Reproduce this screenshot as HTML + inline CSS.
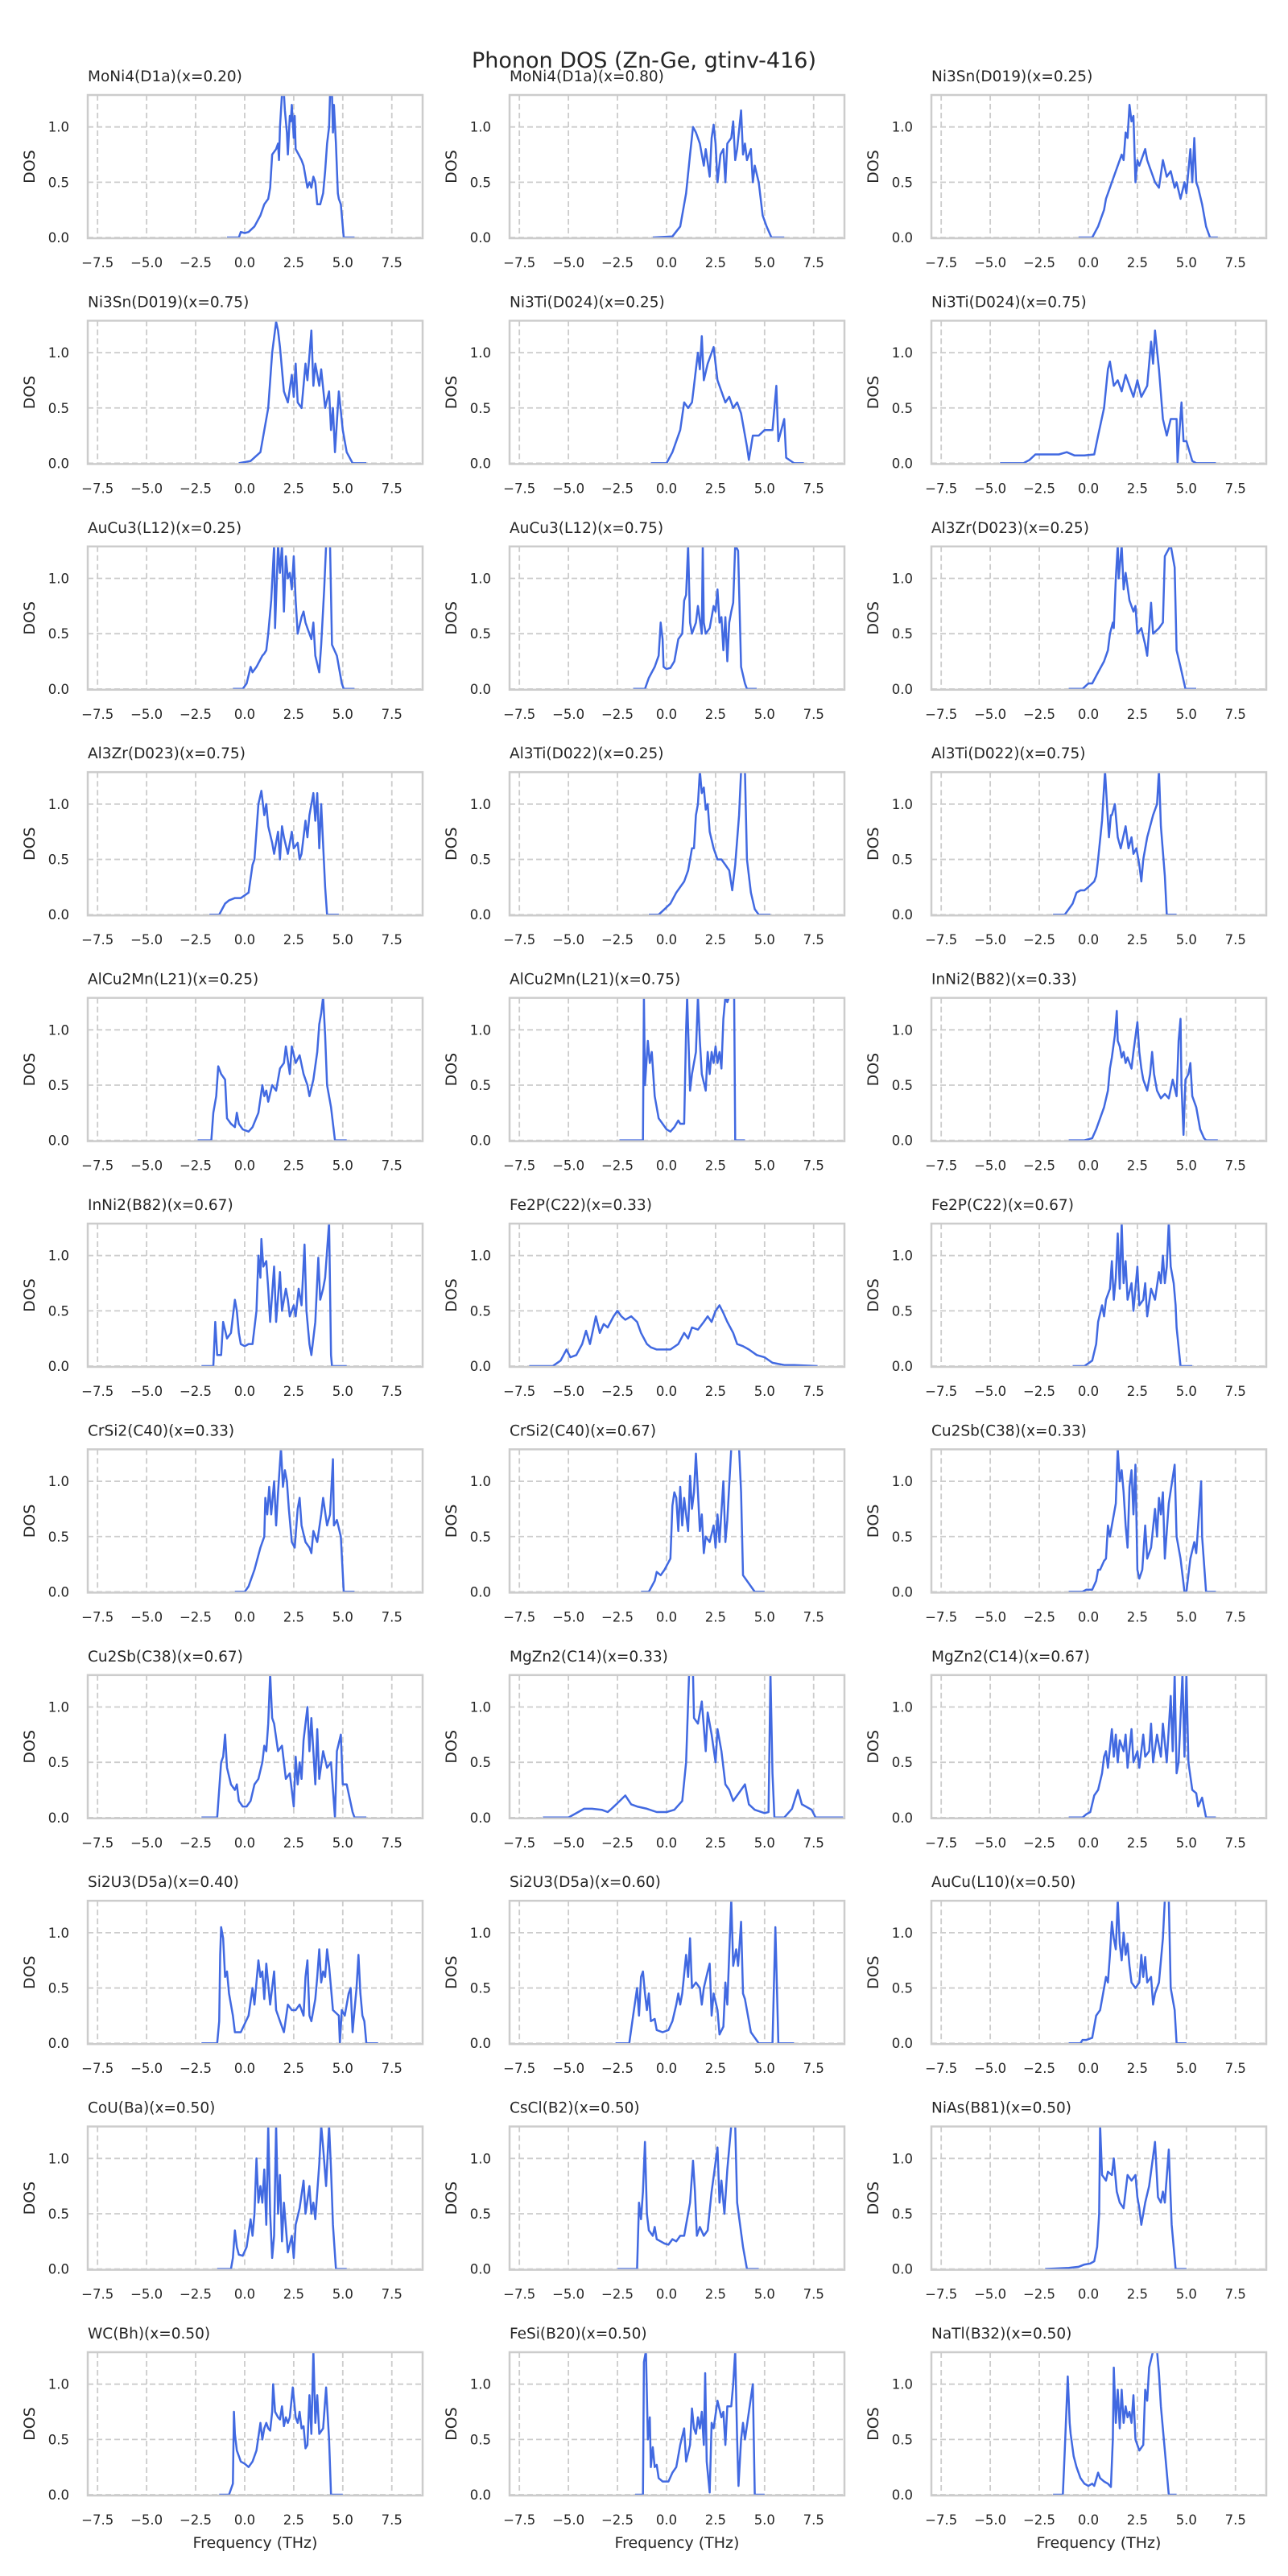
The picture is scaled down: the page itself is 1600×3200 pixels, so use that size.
<!DOCTYPE html>
<html><head><meta charset="utf-8">
<style>
html,body{margin:0;padding:0;background:#fff;}
svg{display:block;font-family:"DejaVu Sans","Liberation Sans",sans-serif;}
</style></head>
<body>
<svg id="fig" width="1600" height="3200" viewBox="0 0 1600 3200" xmlns="http://www.w3.org/2000/svg">
<rect x="0" y="0" width="1600" height="3200" fill="#fff"/>
<text x="800" y="84" text-anchor="middle" font-size="27" fill="#262626">Phonon DOS (Zn-Ge, gtinv-416)</text>
</svg>
<script>
const titles = ["MoNi4(D1a)(x=0.20)","MoNi4(D1a)(x=0.80)","Ni3Sn(D019)(x=0.25)","Ni3Sn(D019)(x=0.75)","Ni3Ti(D024)(x=0.25)","Ni3Ti(D024)(x=0.75)","AuCu3(L12)(x=0.25)","AuCu3(L12)(x=0.75)","Al3Zr(D023)(x=0.25)","Al3Zr(D023)(x=0.75)","Al3Ti(D022)(x=0.25)","Al3Ti(D022)(x=0.75)","AlCu2Mn(L21)(x=0.25)","AlCu2Mn(L21)(x=0.75)","InNi2(B82)(x=0.33)","InNi2(B82)(x=0.67)","Fe2P(C22)(x=0.33)","Fe2P(C22)(x=0.67)","CrSi2(C40)(x=0.33)","CrSi2(C40)(x=0.67)","Cu2Sb(C38)(x=0.33)","Cu2Sb(C38)(x=0.67)","MgZn2(C14)(x=0.33)","MgZn2(C14)(x=0.67)","Si2U3(D5a)(x=0.40)","Si2U3(D5a)(x=0.60)","AuCu(L10)(x=0.50)","CoU(Ba)(x=0.50)","CsCl(B2)(x=0.50)","NiAs(B81)(x=0.50)","WC(Bh)(x=0.50)","FeSi(B20)(x=0.50)","NaTl(B32)(x=0.50)"];
const xTicks = [-7.5,-5.0,-2.5,0.0,2.5,5.0,7.5];
const xTickLabels = ["\u22127.5","\u22125.0","\u22122.5","0.0","2.5","5.0","7.5"];
const yTicks = [0.0,0.5,1.0];
const yTickLabels = ["0.0","0.5","1.0"];
const xDomain = [-8.0, 9.07];
const yDomain = [-0.007, 1.289];

const dos0 = [[-0.9,0],[-0.3,0],[-0.2,0.05],[0,0.04],[0.2,0.05],[0.5,0.1],[0.8,0.2],[1.0,0.3],[1.2,0.35],[1.3,0.45],[1.4,0.75],[1.6,0.8],[1.7,0.85],[1.75,0.7],[1.8,1.0],[1.9,1.3],[2.0,1.3],[2.05,1.15],[2.15,0.95],[2.2,0.75],[2.3,1.1],[2.35,1.05],[2.4,1.2],[2.5,0.9],[2.55,1.1],[2.6,0.8],[2.75,0.75],[2.9,0.7],[3.0,0.65],[3.1,0.55],[3.2,0.45],[3.3,0.5],[3.4,0.45],[3.5,0.55],[3.6,0.5],[3.7,0.3],[3.85,0.3],[4.0,0.4],[4.1,0.6],[4.2,0.85],[4.3,1.0],[4.35,1.3],[4.45,1.3],[4.5,0.95],[4.55,1.2],[4.65,0.85],[4.75,0.4],[4.8,0.35],[4.9,0.3],[5.05,0],[5.6,0]];
const dos1 = [[-0.7,0],[0.3,0.01],[0.7,0.1],[1.0,0.4],[1.2,0.75],[1.35,1.0],[1.5,0.95],[1.6,0.9],[1.7,0.85],[1.8,0.75],[1.9,0.65],[2.0,0.8],[2.2,0.55],[2.3,0.9],[2.4,1.02],[2.5,0.85],[2.6,0.5],[2.75,0.75],[2.9,0.8],[3.0,0.5],[3.1,0.85],[3.3,0.9],[3.4,1.05],[3.5,0.7],[3.6,0.8],[3.8,1.15],[3.9,0.75],[4.0,0.85],[4.1,0.7],[4.3,0.8],[4.4,0.5],[4.5,0.65],[4.7,0.5],[4.9,0.2],[5.1,0.1],[5.35,0],[6.0,0]];
const dos2 = [[-0.5,0],[0.2,0],[0.5,0.1],[0.8,0.25],[0.9,0.35],[1.1,0.45],[1.3,0.55],[1.5,0.65],[1.7,0.75],[1.8,0.7],[1.9,0.95],[2.0,0.9],[2.1,1.2],[2.2,1.05],[2.3,1.1],[2.4,0.5],[2.5,0.7],[2.6,0.65],[2.9,0.8],[3.0,0.7],[3.1,0.65],[3.3,0.55],[3.4,0.5],[3.6,0.45],[3.8,0.7],[4.0,0.55],[4.2,0.6],[4.4,0.45],[4.5,0.5],[4.7,0.35],[4.9,0.5],[5.0,0.4],[5.2,0.8],[5.3,0.5],[5.4,0.9],[5.5,0.5],[5.6,0.45],[5.8,0.3],[6.0,0.1],[6.2,0],[6.6,0]];
const dos3 = [[-0.3,0],[0.3,0.02],[0.8,0.1],[1.2,0.5],[1.4,1.0],[1.6,1.28],[1.7,1.2],[1.8,1.05],[2.0,0.65],[2.2,0.55],[2.4,0.8],[2.5,0.6],[2.6,0.9],[2.7,0.55],[2.9,0.5],[3.1,0.9],[3.2,0.75],[3.4,1.2],[3.5,0.7],[3.6,0.9],[3.8,0.7],[3.9,0.85],[4.1,0.5],[4.3,0.65],[4.4,0.3],[4.5,0.5],[4.6,0.1],[4.8,0.65],[5.0,0.3],[5.2,0.1],[5.5,0],[6.2,0]];
const dos4 = [[-0.8,0],[0,0],[0.3,0.1],[0.7,0.3],[0.9,0.55],[1.1,0.5],[1.3,0.55],[1.4,0.7],[1.5,0.85],[1.6,1.0],[1.7,0.85],[1.8,1.15],[1.9,0.75],[2.1,0.9],[2.4,1.05],[2.6,0.75],[2.8,0.65],[3.0,0.55],[3.2,0.6],[3.4,0.5],[3.6,0.55],[3.8,0.45],[4.1,0.15],[4.2,0.03],[4.4,0.25],[4.7,0.25],[5.0,0.3],[5.4,0.3],[5.6,0.7],[5.7,0.2],[6.0,0.4],[6.1,0.05],[6.5,0],[7.0,0]];
const dos5 = [[-4.5,0],[-3.3,0],[-3.0,0.03],[-2.7,0.08],[-2.2,0.08],[-1.5,0.08],[-1.1,0.1],[-0.7,0.07],[-0.2,0.07],[0.3,0.08],[0.5,0.25],[0.8,0.5],[1.0,0.85],[1.1,0.92],[1.3,0.7],[1.5,0.75],[1.7,0.65],[1.9,0.8],[2.1,0.7],[2.3,0.6],[2.5,0.75],[2.7,0.6],[3.0,0.7],[3.2,1.1],[3.3,0.9],[3.4,1.2],[3.6,0.85],[3.8,0.4],[4.0,0.25],[4.2,0.4],[4.5,0.4],[4.55,0.0],[4.65,0.3],[4.75,0.55],[4.85,0.2],[5.0,0.2],[5.3,0.02],[5.5,0],[6.5,0]];
const dos6 = [[-0.6,0],[-0.1,0],[0.1,0.05],[0.3,0.2],[0.4,0.15],[0.6,0.2],[0.9,0.3],[1.0,0.32],[1.1,0.35],[1.2,0.5],[1.35,0.8],[1.5,1.3],[1.55,0.55],[1.7,1.3],[1.8,1.05],[1.9,1.3],[2.0,0.7],[2.1,1.2],[2.2,1.0],[2.3,1.05],[2.4,0.9],[2.5,1.2],[2.6,0.8],[2.7,0.5],[2.9,0.65],[3.0,0.7],[3.1,0.6],[3.2,0.55],[3.4,0.45],[3.5,0.6],[3.6,0.3],[3.8,0.15],[3.9,0.4],[4.05,0.9],[4.15,1.3],[4.35,1.3],[4.45,0.4],[4.7,0.3],[4.95,0.05],[5.05,0],[5.6,0]];
const dos7 = [[-1.7,0],[-1.1,0],[-0.9,0.1],[-0.6,0.2],[-0.4,0.3],[-0.3,0.6],[-0.2,0.45],[-0.15,0.2],[0,0.18],[0.2,0.19],[0.4,0.25],[0.6,0.45],[0.8,0.5],[0.9,0.8],[1.0,0.85],[1.1,1.3],[1.2,0.6],[1.3,0.5],[1.5,0.6],[1.6,0.75],[1.8,0.5],[1.85,1.3],[1.9,0.6],[2.0,0.5],[2.2,0.55],[2.4,0.75],[2.5,0.7],[2.6,0.9],[2.7,0.6],[2.8,0.65],[2.9,0.35],[3.0,0.65],[3.1,0.25],[3.2,0.6],[3.3,0.7],[3.4,0.78],[3.5,1.3],[3.65,1.25],[3.8,0.2],[4.0,0.05],[4.1,0],[4.6,0]];
const dos8 = [[-1.0,0],[-0.3,0],[0,0.05],[0.2,0.05],[0.5,0.15],[0.8,0.25],[1.0,0.35],[1.1,0.5],[1.25,0.6],[1.3,0.55],[1.4,1.0],[1.5,1.3],[1.55,1.0],[1.7,1.3],[1.8,0.9],[1.9,1.05],[2.1,0.8],[2.3,0.7],[2.4,0.75],[2.5,0.5],[2.7,0.55],[2.9,0.4],[3.0,0.3],[3.2,0.78],[3.3,0.5],[3.6,0.55],[3.8,0.6],[3.9,1.2],[4.2,1.3],[4.4,1.1],[4.5,0.35],[4.7,0.2],[4.95,0],[5.5,0]];
const dos9 = [[-1.8,0],[-1.3,0],[-1.0,0.1],[-0.8,0.13],[-0.5,0.15],[-0.2,0.15],[0.2,0.2],[0.4,0.45],[0.5,0.5],[0.7,1.0],[0.85,1.12],[1.0,0.9],[1.1,1.0],[1.2,0.8],[1.4,0.65],[1.5,0.55],[1.7,0.75],[1.8,0.5],[1.9,0.8],[2.0,0.7],[2.2,0.55],[2.4,0.75],[2.5,0.6],[2.7,0.65],[2.8,0.5],[2.9,0.55],[3.1,0.85],[3.2,0.7],[3.3,0.9],[3.5,1.1],[3.6,0.85],[3.7,1.1],[3.8,0.6],[3.9,1.0],[4.1,0.25],[4.2,0],[4.8,0]];
const dos10 = [[-0.9,0],[-0.4,0],[-0.1,0.05],[0.2,0.1],[0.5,0.2],[0.9,0.3],[1.1,0.4],[1.2,0.5],[1.3,0.6],[1.4,0.6],[1.5,0.9],[1.6,1.0],[1.7,1.3],[1.8,1.1],[1.9,1.15],[2.0,0.95],[2.1,1.0],[2.2,0.75],[2.4,0.6],[2.6,0.5],[2.8,0.5],[3.0,0.45],[3.2,0.4],[3.35,0.22],[3.5,0.45],[3.7,0.9],[3.8,1.3],[4.0,1.3],[4.1,0.5],[4.3,0.2],[4.5,0.05],[4.7,0],[5.3,0]];
const dos11 = [[-1.8,0],[-1.2,0],[-1.0,0.05],[-0.8,0.1],[-0.6,0.2],[-0.4,0.22],[-0.2,0.22],[0.0,0.25],[0.3,0.3],[0.4,0.35],[0.5,0.5],[0.7,0.85],[0.85,1.3],[0.95,1.0],[1.05,0.7],[1.15,0.9],[1.2,0.9],[1.35,1.0],[1.5,0.7],[1.65,0.6],[1.9,0.8],[2.05,0.6],[2.2,0.7],[2.3,0.55],[2.45,0.6],[2.6,0.45],[2.7,0.3],[2.8,0.5],[3.0,0.7],[3.3,0.9],[3.5,1.0],[3.6,1.3],[3.7,0.8],[3.9,0.35],[4.0,0],[4.5,0]];
const dos12 = [[-2.4,0],[-1.7,0],[-1.6,0.25],[-1.45,0.4],[-1.35,0.67],[-1.2,0.6],[-1.0,0.55],[-0.9,0.2],[-0.7,0.15],[-0.5,0.12],[-0.4,0.25],[-0.3,0.15],[-0.1,0.1],[0.2,0.08],[0.4,0.12],[0.7,0.25],[0.9,0.5],[1.0,0.4],[1.1,0.45],[1.2,0.35],[1.4,0.5],[1.6,0.45],[1.8,0.65],[2.0,0.7],[2.1,0.85],[2.3,0.6],[2.4,0.85],[2.6,0.7],[2.8,0.77],[3.0,0.6],[3.2,0.5],[3.3,0.4],[3.5,0.55],[3.7,0.8],[3.8,1.05],[3.9,1.15],[4.0,1.3],[4.1,0.95],[4.2,0.5],[4.4,0.3],[4.6,0],[5.2,0]];
const dos13 = [[-2.4,0],[-1.2,0],[-1.15,1.3],[-1.1,0.5],[-0.95,0.9],[-0.85,0.7],[-0.75,0.8],[-0.6,0.4],[-0.4,0.2],[-0.2,0.15],[0.0,0.1],[0.2,0.08],[0.4,0.12],[0.6,0.18],[0.7,0.15],[0.9,0.15],[1.0,1.0],[1.05,1.3],[1.2,0.45],[1.3,0.6],[1.5,0.8],[1.6,1.3],[1.7,0.9],[1.8,0.6],[2.0,0.45],[2.1,0.8],[2.2,0.6],[2.3,0.8],[2.4,0.7],[2.5,0.85],[2.6,0.7],[2.7,0.8],[2.8,0.65],[2.9,1.1],[3.0,1.3],[3.1,1.25],[3.2,1.3],[3.45,1.3],[3.5,0],[4.0,0]];
const dos14 = [[-1.0,0],[-0.2,0],[0.2,0.02],[0.4,0.1],[0.6,0.2],[0.8,0.3],[1.0,0.45],[1.1,0.65],[1.2,0.75],[1.35,0.95],[1.45,1.17],[1.5,0.9],[1.6,0.85],[1.7,0.75],[1.8,0.8],[1.9,0.7],[2.0,0.75],[2.1,0.7],[2.2,0.65],[2.3,0.8],[2.5,1.07],[2.6,0.8],[2.7,0.65],[2.8,0.55],[3.0,0.45],[3.15,0.6],[3.25,0.8],[3.35,0.6],[3.5,0.45],[3.7,0.38],[3.9,0.42],[4.1,0.38],[4.3,0.55],[4.5,0.4],[4.6,0.9],[4.7,1.1],[4.75,0.5],[4.85,0.05],[4.95,0.55],[5.1,0.6],[5.2,0.7],[5.3,0.4],[5.5,0.3],[5.7,0.1],[5.9,0.02],[6.0,0],[6.6,0]];
const dos15 = [[-2.2,0],[-1.6,0],[-1.5,0.4],[-1.4,0.1],[-1.2,0.1],[-1.1,0.4],[-0.9,0.25],[-0.7,0.3],[-0.6,0.45],[-0.5,0.6],[-0.4,0.5],[-0.3,0.3],[-0.2,0.2],[0,0.18],[0.2,0.2],[0.4,0.2],[0.6,0.5],[0.7,1.0],[0.8,0.8],[0.85,1.15],[0.95,0.9],[1.1,0.95],[1.2,0.7],[1.3,0.4],[1.5,0.9],[1.6,0.4],[1.8,0.85],[1.9,0.5],[2.1,0.7],[2.2,0.6],[2.3,0.45],[2.5,0.55],[2.6,0.45],[2.75,0.7],[2.9,0.55],[3.05,1.1],[3.15,0.5],[3.3,0.2],[3.4,0.1],[3.6,0.4],[3.75,0.98],[3.85,0.6],[4.0,0.7],[4.1,0.8],[4.3,1.3],[4.4,0.1],[4.45,0],[5.2,0]];
const dos16 = [[-7.0,0],[-5.8,0],[-5.4,0.05],[-5.1,0.15],[-4.9,0.08],[-4.6,0.1],[-4.3,0.2],[-4.1,0.32],[-3.9,0.2],[-3.6,0.45],[-3.4,0.3],[-3.2,0.38],[-3.0,0.35],[-2.7,0.45],[-2.5,0.5],[-2.3,0.45],[-2.1,0.42],[-1.8,0.45],[-1.5,0.4],[-1.3,0.3],[-1.0,0.2],[-0.8,0.17],[-0.5,0.15],[-0.2,0.15],[0.2,0.15],[0.6,0.2],[0.9,0.3],[1.1,0.25],[1.3,0.35],[1.6,0.33],[1.9,0.4],[2.1,0.45],[2.3,0.4],[2.5,0.5],[2.7,0.55],[2.9,0.48],[3.1,0.4],[3.4,0.3],[3.6,0.2],[3.9,0.18],[4.2,0.15],[4.6,0.1],[5.0,0.08],[5.4,0.03],[6.0,0.01],[6.5,0.01],[7.7,0]];
const dos17 = [[-0.8,0],[-0.2,0],[0.2,0.05],[0.4,0.2],[0.5,0.4],[0.7,0.55],[0.8,0.45],[0.9,0.6],[1.1,0.7],[1.2,0.95],[1.3,0.6],[1.4,0.8],[1.5,1.2],[1.6,0.7],[1.7,1.3],[1.8,0.75],[1.9,0.95],[2.0,0.6],[2.2,0.75],[2.3,0.5],[2.5,0.9],[2.6,0.55],[2.8,0.6],[2.9,0.75],[3.0,0.45],[3.2,0.7],[3.4,0.6],[3.6,0.85],[3.7,0.75],[3.8,1.0],[3.9,0.75],[4.0,0.9],[4.1,1.3],[4.2,0.9],[4.35,0.75],[4.45,0.55],[4.5,0.35],[4.7,0],[5.3,0]];
const dos18 = [[-0.5,0],[0,0],[0.2,0.05],[0.5,0.2],[0.8,0.4],[1.0,0.5],[1.05,0.85],[1.15,0.7],[1.25,0.95],[1.35,0.7],[1.5,1.0],[1.6,0.6],[1.7,0.9],[1.85,1.3],[1.95,0.95],[2.05,1.1],[2.15,1.0],[2.25,0.75],[2.4,0.45],[2.55,0.4],[2.7,0.75],[2.8,0.85],[2.9,0.6],[3.1,0.45],[3.3,0.4],[3.4,0.35],[3.5,0.55],[3.7,0.45],[3.9,0.7],[4.0,0.85],[4.2,0.6],[4.35,0.7],[4.5,1.2],[4.55,0.6],[4.7,0.65],[4.9,0.5],[5.05,0],[5.6,0]];
const dos19 = [[-1.3,0],[-0.9,0],[-0.6,0.1],[-0.5,0.18],[-0.3,0.15],[-0.1,0.2],[0.2,0.3],[0.3,0.78],[0.4,0.9],[0.5,0.85],[0.6,0.55],[0.7,0.95],[0.8,0.6],[0.9,0.85],[1.0,0.7],[1.1,0.55],[1.2,1.05],[1.3,0.75],[1.4,0.9],[1.5,1.25],[1.6,0.9],[1.7,0.55],[1.8,0.7],[1.9,0.35],[2.0,0.5],[2.2,0.45],[2.4,0.6],[2.5,0.4],[2.6,0.7],[2.7,0.45],[2.9,1.0],[3.0,0.45],[3.1,0.65],[3.3,1.3],[3.5,1.3],[3.7,1.3],[3.8,0.9],[3.9,0.15],[4.3,0.05],[4.5,0],[5.0,0]];
const dos20 = [[-1.0,0],[-0.3,0],[-0.1,0.02],[0.2,0.02],[0.4,0.1],[0.5,0.2],[0.6,0.2],[0.8,0.28],[0.9,0.3],[1.0,0.6],[1.1,0.5],[1.2,0.6],[1.4,0.8],[1.5,1.3],[1.6,1.0],[1.7,1.1],[1.8,0.9],[1.9,0.6],[2.0,0.4],[2.1,0.95],[2.2,1.1],[2.3,0.7],[2.4,1.15],[2.5,0.2],[2.6,0.12],[2.75,0.2],[2.9,0.6],[3.0,0.3],[3.2,0.4],[3.4,0.75],[3.5,0.5],[3.6,0.85],[3.7,0.7],[3.8,0.9],[3.9,0.3],[4.1,0.8],[4.4,1.15],[4.5,0.5],[4.7,0.3],[4.9,0],[5.0,0],[5.2,0.3],[5.4,0.45],[5.5,0.35],[5.6,0.6],[5.75,1.0],[5.8,0.5],[6.0,0],[6.5,0]];
const dos21 = [[-2.2,0],[-1.4,0],[-1.2,0.5],[-1.1,0.55],[-1.0,0.75],[-0.9,0.45],[-0.7,0.3],[-0.5,0.25],[-0.4,0.3],[-0.3,0.15],[-0.1,0.1],[0.1,0.1],[0.3,0.15],[0.5,0.3],[0.7,0.35],[0.9,0.5],[1.0,0.65],[1.1,0.6],[1.2,0.85],[1.3,1.3],[1.4,0.9],[1.5,0.85],[1.7,0.6],[1.9,0.65],[2.1,0.35],[2.3,0.4],[2.5,0.1],[2.6,0.55],[2.7,0.3],[2.8,0.5],[2.9,0.35],[3.0,0.7],[3.2,1.0],[3.3,0.6],[3.4,0.9],[3.6,0.3],[3.7,0.8],[3.8,0.35],[4.0,0.6],[4.2,0.45],[4.4,0.5],[4.6,0.0],[4.7,0.6],[4.9,0.75],[5.0,0.3],[5.2,0.3],[5.5,0.05],[5.6,0],[6.2,0]];
const dos22 = [[-6.3,0],[-5.0,0],[-4.5,0.05],[-4.2,0.08],[-3.8,0.08],[-3.3,0.07],[-3.0,0.05],[-2.8,0.08],[-2.5,0.13],[-2.1,0.2],[-1.8,0.12],[-1.5,0.1],[-1.0,0.08],[-0.5,0.05],[0.0,0.05],[0.4,0.07],[0.8,0.15],[1.0,0.5],[1.15,1.3],[1.35,1.3],[1.4,0.9],[1.6,0.85],[1.8,1.05],[2.0,0.6],[2.1,0.95],[2.3,0.75],[2.5,0.5],[2.6,0.8],[2.8,0.6],[3.0,0.3],[3.2,0.25],[3.4,0.15],[3.6,0.2],[3.8,0.25],[4.0,0.3],[4.2,0.12],[4.5,0.07],[5.0,0.04],[5.2,0.05],[5.3,1.3],[5.4,0.4],[5.5,0],[6.0,0],[6.4,0.08],[6.7,0.25],[6.9,0.12],[7.4,0.07],[7.6,0],[9.0,0]];
const dos23 = [[-1.0,0],[-0.3,0],[-0.1,0.03],[0.1,0.05],[0.3,0.2],[0.5,0.25],[0.7,0.4],[0.8,0.55],[0.9,0.6],[1.0,0.45],[1.2,0.8],[1.3,0.55],[1.4,0.75],[1.5,0.5],[1.6,0.7],[1.8,0.6],[1.9,0.75],[2.0,0.45],[2.2,0.8],[2.3,0.5],[2.5,0.6],[2.6,0.45],[2.8,0.75],[2.9,0.55],[3.1,0.6],[3.2,0.85],[3.3,0.5],[3.5,0.75],[3.7,0.55],[3.8,0.85],[4.0,0.5],[4.2,1.1],[4.3,0.6],[4.4,1.3],[4.5,0.4],[4.6,0.5],[4.8,1.3],[4.9,0.55],[5.0,1.3],[5.1,0.5],[5.3,0.25],[5.5,0.22],[5.6,0.1],[5.8,0.18],[6.0,0],[6.5,0]];
const dos24 = [[-2.2,0],[-1.4,0],[-1.3,0.2],[-1.25,0.8],[-1.2,1.05],[-1.1,0.95],[-1.0,0.6],[-0.9,0.65],[-0.8,0.45],[-0.7,0.35],[-0.6,0.25],[-0.5,0.1],[-0.2,0.1],[0.2,0.25],[0.4,0.5],[0.5,0.35],[0.7,0.75],[0.8,0.6],[0.9,0.65],[1.0,0.4],[1.1,0.72],[1.3,0.35],[1.5,0.65],[1.6,0.3],[1.8,0.2],[2.0,0.1],[2.2,0.35],[2.4,0.3],[2.6,0.3],[2.8,0.35],[3.0,0.25],[3.1,0.6],[3.2,0.75],[3.3,0.25],[3.4,0.2],[3.6,0.4],[3.7,0.6],[3.8,0.85],[3.9,0.55],[4.0,0.65],[4.1,0.6],[4.2,0.85],[4.3,0.7],[4.5,0.3],[4.8,0.25],[4.85,0.0],[4.95,0.3],[5.1,0.25],[5.3,0.45],[5.4,0.5],[5.5,0.1],[5.6,0.3],[5.7,0.5],[5.8,0.8],[5.9,0.45],[6.0,0.25],[6.1,0.2],[6.2,0],[6.8,0]];
const dos25 = [[-2.6,0],[-1.9,0],[-1.7,0.25],[-1.5,0.5],[-1.4,0.25],[-1.3,0.6],[-1.2,0.65],[-1.1,0.45],[-1.0,0.3],[-0.9,0.45],[-0.8,0.2],[-0.6,0.22],[-0.5,0.12],[-0.2,0.1],[0.1,0.12],[0.3,0.2],[0.5,0.35],[0.6,0.45],[0.7,0.35],[0.8,0.45],[1.0,0.8],[1.1,0.6],[1.2,0.95],[1.3,0.5],[1.5,0.55],[1.7,0.5],[1.8,0.35],[1.9,0.5],[2.1,0.65],[2.2,0.72],[2.3,0.25],[2.4,0.45],[2.6,0.3],[2.7,0.08],[2.9,0.15],[3.0,0.55],[3.1,0.35],[3.3,1.3],[3.4,0.7],[3.55,0.85],[3.65,0.7],[3.8,1.1],[3.9,0.45],[4.0,0.4],[4.3,0.1],[4.7,0],[5.4,0],[5.55,1.05],[5.7,0],[6.5,0]];
const dos26 = [[-1.0,0],[-0.4,0],[-0.3,0.03],[-0.1,0.03],[0.2,0.05],[0.4,0.25],[0.6,0.3],[0.8,0.5],[0.9,0.6],[1.0,0.55],[1.1,0.8],[1.2,1.1],[1.3,0.95],[1.4,0.85],[1.5,1.3],[1.6,0.9],[1.7,0.75],[1.8,1.0],[1.9,0.8],[2.0,0.9],[2.1,0.7],[2.2,0.55],[2.4,0.5],[2.6,0.55],[2.7,0.8],[2.8,0.6],[2.9,0.78],[3.0,0.55],[3.2,0.6],[3.3,0.35],[3.4,0.45],[3.6,0.55],[3.8,0.95],[3.9,1.3],[4.1,1.3],[4.2,0.5],[4.4,0.3],[4.5,0],[5.0,0]];
const dos27 = [[-1.4,0],[-0.7,0],[-0.6,0.1],[-0.5,0.35],[-0.4,0.2],[-0.3,0.13],[-0.1,0.12],[0.1,0.2],[0.3,0.45],[0.4,0.3],[0.5,0.5],[0.6,1.0],[0.7,0.6],[0.8,0.75],[0.9,0.6],[1.0,0.9],[1.1,0.4],[1.2,1.3],[1.3,0.5],[1.4,0.1],[1.5,0.3],[1.6,1.3],[1.7,0.5],[1.8,0.85],[1.9,0.25],[2.0,0.6],[2.2,0.15],[2.4,0.3],[2.5,0.1],[2.6,0.4],[2.8,0.55],[3.0,0.8],[3.1,0.5],[3.3,0.75],[3.4,0.5],[3.5,0.6],[3.6,0.45],[3.8,0.95],[3.9,1.3],[4.0,1.1],[4.15,0.75],[4.3,1.3],[4.4,0.9],[4.5,0.4],[4.65,0],[5.2,0]];
const dos28 = [[-2.5,0],[-1.5,0],[-1.4,0.6],[-1.3,0.45],[-1.2,0.7],[-1.1,1.15],[-1.0,0.5],[-0.9,0.35],[-0.7,0.3],[-0.6,0.38],[-0.5,0.27],[-0.3,0.25],[-0.1,0.23],[0.1,0.22],[0.3,0.27],[0.5,0.25],[0.7,0.3],[0.9,0.3],[1.2,0.6],[1.35,0.98],[1.45,0.7],[1.55,0.3],[1.7,0.38],[1.9,0.3],[2.1,0.35],[2.3,0.7],[2.45,0.9],[2.6,1.1],[2.7,0.6],[2.8,0.8],[2.95,0.5],[3.1,0.9],[3.3,1.3],[3.5,1.3],[3.6,0.6],[3.9,0.2],[4.1,0],[4.7,0]];
const dos29 = [[-2.2,0],[-1.0,0.01],[-0.5,0.02],[-0.2,0.04],[0.1,0.05],[0.3,0.07],[0.45,0.2],[0.55,0.5],[0.6,1.3],[0.7,0.85],[0.9,0.8],[1.0,0.88],[1.2,0.85],[1.3,1.0],[1.45,0.7],[1.6,0.6],[1.8,0.55],[2.0,0.85],[2.2,0.8],[2.4,0.85],[2.5,0.65],[2.6,0.55],[2.7,0.4],[2.9,0.6],[3.1,0.75],[3.4,1.15],[3.55,0.65],[3.7,0.6],[3.8,0.7],[3.9,0.6],[4.1,1.08],[4.25,0.4],[4.45,0],[5.0,0]];
const dos30 = [[-1.3,0],[-0.8,0],[-0.7,0.05],[-0.6,0.1],[-0.55,0.75],[-0.5,0.55],[-0.4,0.4],[-0.3,0.35],[-0.2,0.3],[0,0.28],[0.2,0.25],[0.4,0.3],[0.6,0.4],[0.8,0.65],[0.9,0.5],[1.0,0.6],[1.1,0.65],[1.2,0.6],[1.3,0.58],[1.4,0.75],[1.45,1.0],[1.55,0.75],[1.7,0.7],[1.8,0.68],[1.9,0.8],[2.0,0.62],[2.1,0.7],[2.2,0.65],[2.3,0.7],[2.45,0.97],[2.6,0.7],[2.7,0.65],[2.8,0.75],[2.9,0.6],[3.0,0.62],[3.1,0.42],[3.2,0.45],[3.3,0.9],[3.4,0.55],[3.5,1.3],[3.6,0.65],[3.7,0.9],[3.8,0.55],[4.0,0.6],[4.15,0.97],[4.3,0.5],[4.4,0],[5.0,0]];
const dos31 = [[-1.6,0],[-1.2,0],[-1.15,1.2],[-1.05,1.3],[-0.95,0.5],[-0.85,0.7],[-0.8,0.25],[-0.7,0.43],[-0.6,0.25],[-0.5,0.27],[-0.4,0.15],[-0.2,0.12],[0.1,0.12],[0.3,0.2],[0.5,0.25],[0.7,0.45],[0.9,0.6],[1.0,0.3],[1.2,0.45],[1.3,0.78],[1.4,0.6],[1.5,0.55],[1.6,0.7],[1.7,0.6],[1.8,0.75],[1.9,0.45],[1.97,1.1],[2.05,0.3],[2.2,0.02],[2.3,0.65],[2.4,0.6],[2.6,0.85],[2.8,0.7],[2.9,0.75],[3.0,0.45],[3.1,0.8],[3.3,0.8],[3.4,1.0],[3.5,1.3],[3.6,0.5],[3.67,0.08],[3.8,0.5],[3.9,0.65],[4.0,0.5],[4.2,0.75],[4.4,1.0],[4.5,0],[5.0,0]];
const dos32 = [[-1.8,0],[-1.3,0],[-1.2,0.4],[-1.05,1.07],[-0.95,0.65],[-0.9,0.55],[-0.75,0.35],[-0.6,0.25],[-0.4,0.15],[-0.2,0.1],[0,0.08],[0.2,0.1],[0.3,0.08],[0.5,0.2],[0.6,0.15],[0.8,0.12],[1.0,0.1],[1.15,0.07],[1.25,0.5],[1.3,1.15],[1.4,0.65],[1.5,0.95],[1.6,0.6],[1.7,0.95],[1.8,0.65],[1.9,0.8],[2.0,0.7],[2.1,0.75],[2.2,0.65],[2.3,0.9],[2.4,0.5],[2.6,0.4],[2.8,0.45],[2.9,0.95],[3.0,0.85],[3.1,1.15],[3.3,1.3],[3.5,1.3],[3.6,1.1],[3.7,0.8],[4.1,0],[4.5,0]];

const seriesList = [dos0,dos1,dos2,dos3,dos4,dos5,dos6,dos7,dos8,dos9,dos10,dos11,dos12,dos13,dos14,dos15,dos16,dos17,dos18,dos19,dos20,dos21,dos22,dos23,dos24,dos25,dos26,dos27,dos28,dos29,dos30,dos31,dos32];

const NS = "http://www.w3.org/2000/svg";
const fig = document.getElementById("fig");
const PW = 416, PH = 178;
function mk(tag, attrs, parent) {
  const el = document.createElementNS(NS, tag);
  for (const k in attrs) el.setAttribute(k, attrs[k]);
  (parent || fig).appendChild(el);
  return el;
}
seriesList.forEach(function (series, i) {
  const col = i % 3, row = Math.floor(i / 3);
  const left = 109 + col * 524;
  const top = 118 + row * 280.4;
  const xs = function (f) { return left + (f - xDomain[0]) / (xDomain[1] - xDomain[0]) * PW; };
  const ys = function (d) { return top + PH * (yDomain[1] - d) / (yDomain[1] - yDomain[0]); };
  const g = mk("g", {});
  
  
  xTicks.forEach(function (t, k) {
    const l = mk("line", {x1: xs(t), x2: xs(t), y1: top, y2: top + PH, stroke: "#cccccc", "stroke-width": 1.8, "stroke-dasharray": "7,4"}, g);
    
    
    const tx = mk("text", {x: xs(t), y: top + PH + 36, "text-anchor": "middle", "font-size": 16.5, fill: "#262626"}, g);
    tx.textContent = xTickLabels[k];
    
    
  });
  yTicks.forEach(function (t, k) {
    const l = mk("line", {x1: left, x2: left + PW, y1: ys(t), y2: ys(t), stroke: "#cccccc", "stroke-width": 1.8, "stroke-dasharray": "7,4"}, g);
    
    
    const tx = mk("text", {x: left - 23, y: ys(t) + 6, "text-anchor": "end", "font-size": 16.5, fill: "#262626"}, g);
    tx.textContent = yTickLabels[k];
    
    
  });
  const cp = mk("clipPath", {id: "clip" + i}, g);
  mk("rect", {x: left, y: top, width: PW, height: PH}, cp);
  const d = series.map(function (p, k) { return (k ? "L" : "M") + xs(p[0]).toFixed(1) + "," + ys(p[1]).toFixed(1); }).join(" ");
  const path = mk("path", {d: d, fill: "none", stroke: "#4169e1", "stroke-width": 2.5, "stroke-linejoin": "round", "clip-path": "url(#clip" + i + ")"}, g);
  
  
  const sp = mk("rect", {x: left, y: top, width: PW, height: PH, fill: "none", stroke: "#cccccc", "stroke-width": 2.5}, g);
  
  
  const tt = mk("text", {x: left, y: top - 17, "font-size": 18.5, fill: "#262626"}, g);
  tt.textContent = titles[i];
  
  
  const yl = mk("text", {x: left - 66, y: top + PH / 2, "text-anchor": "middle", "font-size": 19, fill: "#262626", transform: "rotate(-90 " + (left - 66) + " " + (top + PH / 2) + ")"}, g);
  yl.textContent = "DOS";
  
  
  if (row === 10) {
    const xl = mk("text", {x: left + PW / 2, y: top + PH + 65, "text-anchor": "middle", "font-size": 19, fill: "#262626"}, g);
    xl.textContent = "Frequency (THz)";
    
    
  }
});
</script>
</body></html>
